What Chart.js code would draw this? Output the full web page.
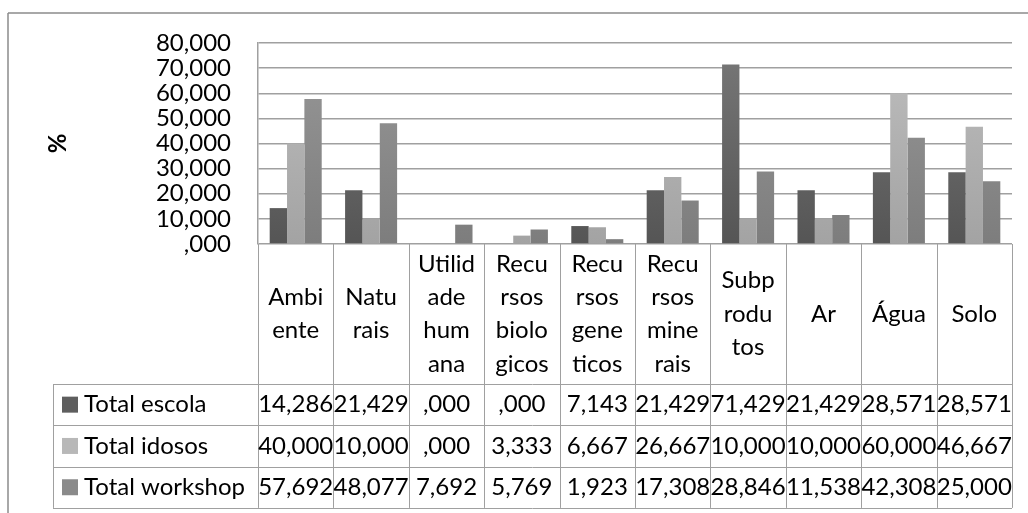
<!DOCTYPE html>
<html>
<head>
<meta charset="utf-8">
<script src="https://cdn.jsdelivr.net/npm/chart.js@4/dist/chart.umd.min.js"></script>
<style>
  body { margin: 0; background: #fff; }
  #wrap { width: 1028px; height: 513px; position: relative; }
</style>
</head>
<body>
<div id="wrap"><canvas id="chart"></canvas></div>
<script>
// categories, already wrapped the way the table cells show them
const categories = [
  ['Ambi', 'ente'],
  ['Natu', 'rais'],
  ['Utilid', 'ade', 'hum', 'ana'],
  ['Recu', 'rsos', 'biolo', 'gicos'],
  ['Recu', 'rsos', 'gene', 'ticos'],
  ['Recu', 'rsos', 'mine', 'rais'],
  ['Subp', 'rodu', 'tos'],
  ['Ar'],
  ['Água'],
  ['Solo']
];
const seriesNames = ['Total escola', 'Total idosos', 'Total workshop'];
const totalEscola = [14.286, 21.429, 0, 0, 7.143, 21.429, 71.429, 21.429, 28.571, 28.571];
const totalIdosos = [40.000, 10.000, 0, 3.333, 6.667, 26.667, 10.000, 10.000, 60.000, 46.667];
const totalWorkshop = [57.692, 48.077, 7.692, 5.769, 1.923, 17.308, 28.846, 11.538, 42.308, 25.000];
const yMin = 0, yMax = 80, yStep = 10;

const FONT = 'Lato, "Open Sans", sans-serif';
const FONT_SIZE = 24;
const LINE = '#a0a0a0';

// gradient per series: [top, bottom, legend key]
const shades = [
  ['#787878', '#555555', '#5e5e5e'],
  ['#bebebe', '#a3a3a3', '#b8b8b8'],
  ['#989898', '#7d7d7d', '#8a8a8a']
];

const fmt = v => v === 0 ? ',000' : v.toFixed(3).replace('.', ',');

const gradientFor = i => ctx => {
  const area = ctx.chart.chartArea;
  if (!area) return shades[i][2];
  const g = ctx.chart.ctx.createLinearGradient(0, area.top, 0, area.bottom);
  g.addColorStop(0, shades[i][0]);
  g.addColorStop(1, shades[i][1]);
  return g;
};

const seriesData = [totalEscola, totalIdosos, totalWorkshop];

const dataTable = {
  id: 'dataTable',
  afterDraw(chart) {
    const { ctx, chartArea: area, scales: { x } } = chart;
    const n = categories.length;
    const cw = (area.right - area.left) / n;
    const top = area.bottom;
    const headerH = 140;
    const rowH = 41.3;
    const tableLeft = 53;
    const bottom = top + headerH + rowH * 3;

    ctx.save();
    // outer frame (top + left visible)
    ctx.strokeStyle = '#8c8c8c';
    ctx.lineWidth = 1.5;
    ctx.beginPath();
    ctx.moveTo(8, 13); ctx.lineTo(1028, 13);
    ctx.moveTo(8, 13); ctx.lineTo(8, 513);
    ctx.stroke();

    ctx.strokeStyle = LINE;
    ctx.lineWidth = 1;
    ctx.beginPath();
    for (let i = 0; i <= n; i++) {
      const xx = Math.round(area.left + i * cw) + 0.5;
      ctx.moveTo(xx, top); ctx.lineTo(xx, bottom);
    }
    for (let r = 0; r <= 3; r++) {
      const yy = Math.round(top + headerH + r * rowH) + 0.5;
      ctx.moveTo(tableLeft, yy); ctx.lineTo(area.right, yy);
    }
    ctx.moveTo(tableLeft + 0.5, top + headerH); ctx.lineTo(tableLeft + 0.5, bottom);
    ctx.stroke();

    ctx.fillStyle = '#000';
    ctx.font = `${FONT_SIZE}px ${FONT}`;
    ctx.textAlign = 'center';
    ctx.textBaseline = 'middle';

    // header labels
    const lh = 33.3;
    categories.forEach((lines, i) => {
      const cx = x.getPixelForValue(i);
      const cy = top + headerH / 2;
      lines.forEach((t, k) => {
        ctx.fillText(t, cx, cy + (k - (lines.length - 1) / 2) * lh);
      });
    });

    // rows
    seriesData.forEach((vals, r) => {
      const cy = top + headerH + r * rowH + rowH / 2;
      ctx.fillStyle = shades[r][2];
      ctx.fillRect(62, cy - 8, 16, 16);
      ctx.fillStyle = '#000';
      ctx.textAlign = 'left';
      ctx.fillText(seriesNames[r], 84, cy);
      ctx.textAlign = 'center';
      vals.forEach((v, i) => ctx.fillText(fmt(v), x.getPixelForValue(i), cy));
    });
    ctx.restore();
  }
};

new Chart(document.getElementById('chart'), {
  type: 'bar',
  data: {
    labels: categories,
    datasets: seriesData.map((d, i) => ({
      label: seriesNames[i],
      data: d,
      backgroundColor: gradientFor(i),
      borderWidth: 0,
      categoryPercentage: 0.69,
      barPercentage: 1
    }))
  },
  options: {
    responsive: true,
    maintainAspectRatio: false,
    animation: false,
    layout: { padding: { top: 43, right: 16, bottom: 269, left: 0 } },
    plugins: {
      legend: { display: false },
      tooltip: { enabled: false }
    },
    scales: {
      x: { display: false },
      y: {
        min: yMin,
        max: yMax,
        afterFit: s => { s.width = 258; },
        ticks: {
          stepSize: yStep,
          autoSkip: false,
          padding: 27,
          color: '#000',
          font: { family: FONT, size: FONT_SIZE, lineHeight: 1 },
          callback: v => fmt(v)
        },
        grid: { color: LINE, lineWidth: 1.5, drawTicks: false },
        border: { display: true, color: LINE, width: 1.5 },
        title: {
          display: true,
          text: '%',
          color: '#000',
          font: { family: FONT, size: 24, weight: 'bold', lineHeight: 1.2 },
          padding: { top: 44, bottom: 0 }
        }
      }
    }
  },
  plugins: [dataTable]
});
</script>
</body>
</html>
